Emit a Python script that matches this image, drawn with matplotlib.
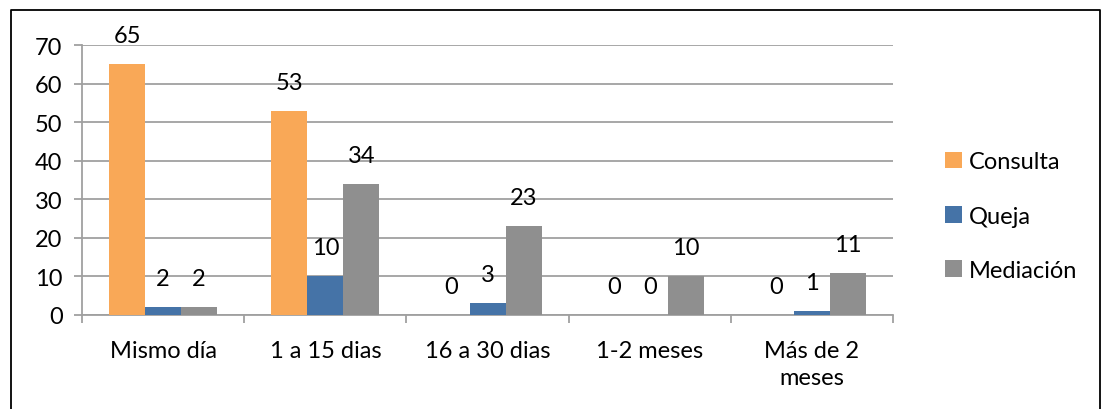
import matplotlib.pyplot as plt
import numpy as np

plt.rcParams["font.family"] = ["Lato", "DejaVu Sans"]

categories = ["Mismo día", "1 a 15 dias", "16 a 30 dias", "1-2 meses", "Más de 2\nmeses"]
consulta = [65, 53, 0, 0, 0]
queja = [2, 10, 3, 0, 1]
mediacion = [2, 34, 23, 10, 11]

series = [
    ("Consulta", consulta, "#F9A857"),
    ("Queja", queja, "#4573A7"),
    ("Mediación", mediacion, "#8F8F8F"),
]

fig = plt.figure(figsize=(11.04, 4.10), dpi=100)
ax = fig.add_axes([0.0743, 0.2293, 0.7346, 0.6585])

x = np.arange(len(categories))
width = 1 / 4.5

for i, (name, vals, color) in enumerate(series):
    pos = x + (i - 1) * width
    ax.bar(pos, vals, width=width, color=color, label=name, zorder=3)
    for px, v in zip(pos, vals):
        ax.annotate(str(v), (px, v), xytext=(0, 13), textcoords="offset points",
                    ha="center", va="bottom", fontsize=17, color="black")

ax.set_xlim(-0.5, len(categories) - 0.5)
ax.set_ylim(0, 70)
ax.set_yticks(range(0, 71, 10))
ax.yaxis.grid(True, color="#A0A0A0", linewidth=1.3, zorder=0)
ax.set_axisbelow(True)

ax.set_xticks(x)
ax.set_xticklabels(categories, fontsize=17, linespacing=1.35)
ax.tick_params(axis="x", length=0, pad=18)
ax.set_xticks(np.arange(-0.5, len(categories)), minor=True)
ax.tick_params(axis="x", which="minor", length=6, width=1.3, color="#A0A0A0")
ax.tick_params(axis="y", length=6, width=1.3, color="#A0A0A0", labelsize=17, pad=8)

for side in ("top", "right"):
    ax.spines[side].set_visible(False)
for side in ("left", "bottom"):
    ax.spines[side].set_color("#A0A0A0")
    ax.spines[side].set_linewidth(1.3)

handles, labels = ax.get_legend_handles_labels()
fig.legend(handles, labels, loc="upper left", bbox_to_anchor=(0.837, 0.68),
           frameon=False, fontsize=17, handlelength=0.7, handleheight=0.7,
           handletextpad=0.3, labelspacing=1.4)

# outer chart border (bottom edge falls outside the canvas)
fig.add_artist(plt.Line2D([0.010, 0.010, 0.9965, 0.9965], [0.0, 0.974, 0.974, 0.0],
                          transform=fig.transFigure, color="black", linewidth=1.3))

fig.savefig("out.png", dpi=100)
